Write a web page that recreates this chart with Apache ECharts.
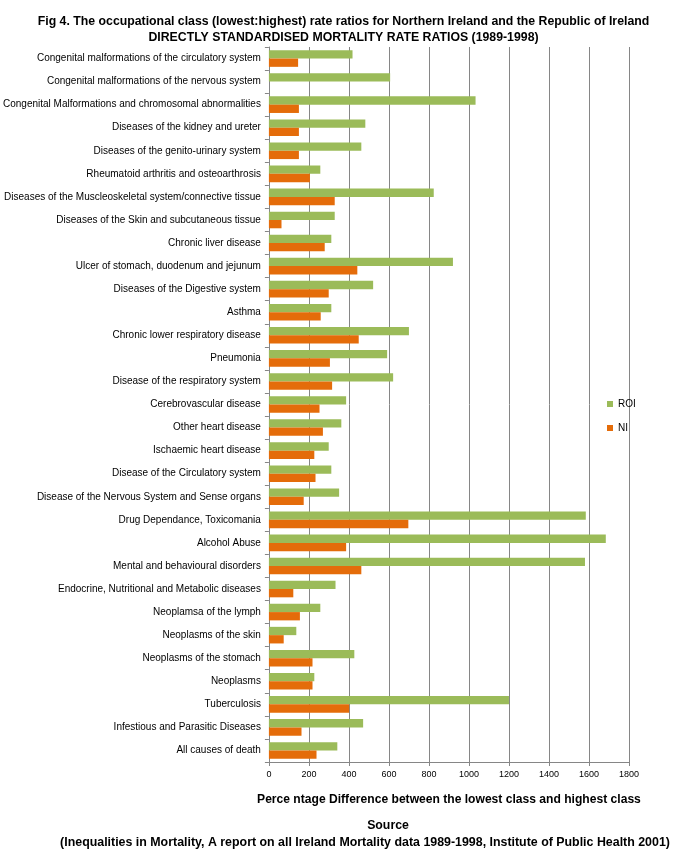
<!DOCTYPE html>
<html><head><meta charset="utf-8">
<script src="https://cdn.jsdelivr.net/npm/echarts@6/dist/echarts.min.js"></script>
<style>html,body{margin:0;padding:0;background:#fff}#c{width:687px;height:861px}</style>
</head><body><div id="c"></div>
<script>
const categories = [
"Congenital malformations of the circulatory system",
"Congenital malformations of the nervous system",
"Congenital Malformations and chromosomal abnormalities",
"Diseases of the kidney and ureter",
"Diseases of the genito-urinary system",
"Rheumatoid arthritis and osteoarthrosis",
"Diseases of the Muscleoskeletal system/connective tissue",
"Diseases of the Skin and subcutaneous tissue",
"Chronic liver disease",
"Ulcer of stomach, duodenum and jejunum",
"Diseases of the Digestive system",
"Asthma",
"Chronic lower respiratory disease",
"Pneumonia",
"Disease of the respiratory system",
"Cerebrovascular disease",
"Other heart disease",
"Ischaemic heart disease",
"Disease of the Circulatory system",
"Disease of the Nervous System and Sense organs",
"Drug Dependance, Toxicomania",
"Alcohol Abuse",
"Mental and behavioural disorders",
"Endocrine, Nutritional and Metabolic diseases",
"Neoplamsa of the lymph",
"Neoplasms of the skin",
"Neoplasms of the stomach",
"Neoplasms",
"Tuberculosis",
"Infestious and Parasitic Diseases",
"All causes of death"
];
const roi = [418,606,1033,482,462,257,824,329,312,920,521,312,700,591,621,386,362,299,312,351,1584,1684,1580,333,257,137,427,227,1200,471,342];
const ni  = [146,0,150,150,150,205,329,63,279,442,299,259,449,305,316,253,270,227,233,174,697,386,462,122,155,74,218,218,401,163,238];
const xTicks = [0,200,400,600,800,1000,1200,1400,1600,1800];

const font = "Liberation Sans";
const chart = echarts.init(document.getElementById('c'));
chart.setOption({
  animation:false,
  textStyle:{fontFamily:font},
  title:[
    {text:"Fig 4. The occupational class (lowest:highest) rate ratios for Northern Ireland and the Republic of Ireland",
     left:'center', top:11, textStyle:{fontSize:12.3, fontWeight:'bold', color:'#000', fontFamily:font}},
    {text:"DIRECTLY STANDARDISED MORTALITY RATE RATIOS (1989-1998)",
     left:'center', top:27, textStyle:{fontSize:12.3, fontWeight:'bold', color:'#000', fontFamily:font}},
    {text:"Source", left:383, textAlign:'center', top:815, textStyle:{fontSize:12.3, fontWeight:'bold', color:'#000', fontFamily:font}},
    {text:"(Inequalities in Mortality, A report on all Ireland Mortality data 1989-1998, Institute of Public Health 2001)",
     left:360, textAlign:'center', top:832, textStyle:{fontSize:12.4, fontWeight:'bold', color:'#000', fontFamily:font}}
  ],
  legend:{orient:'vertical', left:602, top:394, itemWidth:6, itemHeight:6, itemGap:14,
    icon:'rect', textStyle:{fontSize:10, color:'#000', fontFamily:font}, data:['ROI','NI']},
  grid:{left:267, right:58, top:47, bottom:99},
  xAxis:{type:'value', min:0, max:1800, interval:200,
    axisLine:{show:true, lineStyle:{color:'#868686'}},
    axisTick:{show:true, length:4, lineStyle:{color:'#868686'}},
    axisLabel:{fontSize:9, color:'#000', margin:8, formatter:v=>xTicks.includes(v)?String(v):''},
    splitLine:{show:true, lineStyle:{color:'#868686', width:1}},
    name:"Perce ntage Difference between the lowest class and highest class",
    nameLocation:'middle', nameGap:32,
    nameTextStyle:{fontSize:12.1, fontWeight:'bold', color:'#000', fontFamily:font}
  },
  yAxis:{type:'category', inverse:true, data:categories,
    axisLine:{show:true, lineStyle:{color:'#868686'}},
    axisTick:{show:true, length:4, lineStyle:{color:'#868686'}},
    axisLabel:{fontSize:10, color:'#000', margin:8, interval:0}
  },
  series:[
    {name:'ROI', type:'bar', data:roi, itemStyle:{color:'#9BBB59'}, barGap:'0%', barCategoryGap:'28%'},
    {name:'NI', type:'bar', data:ni, itemStyle:{color:'#E46C0A'}, barGap:'0%', barCategoryGap:'28%'}
  ]
});
</script></body></html>
